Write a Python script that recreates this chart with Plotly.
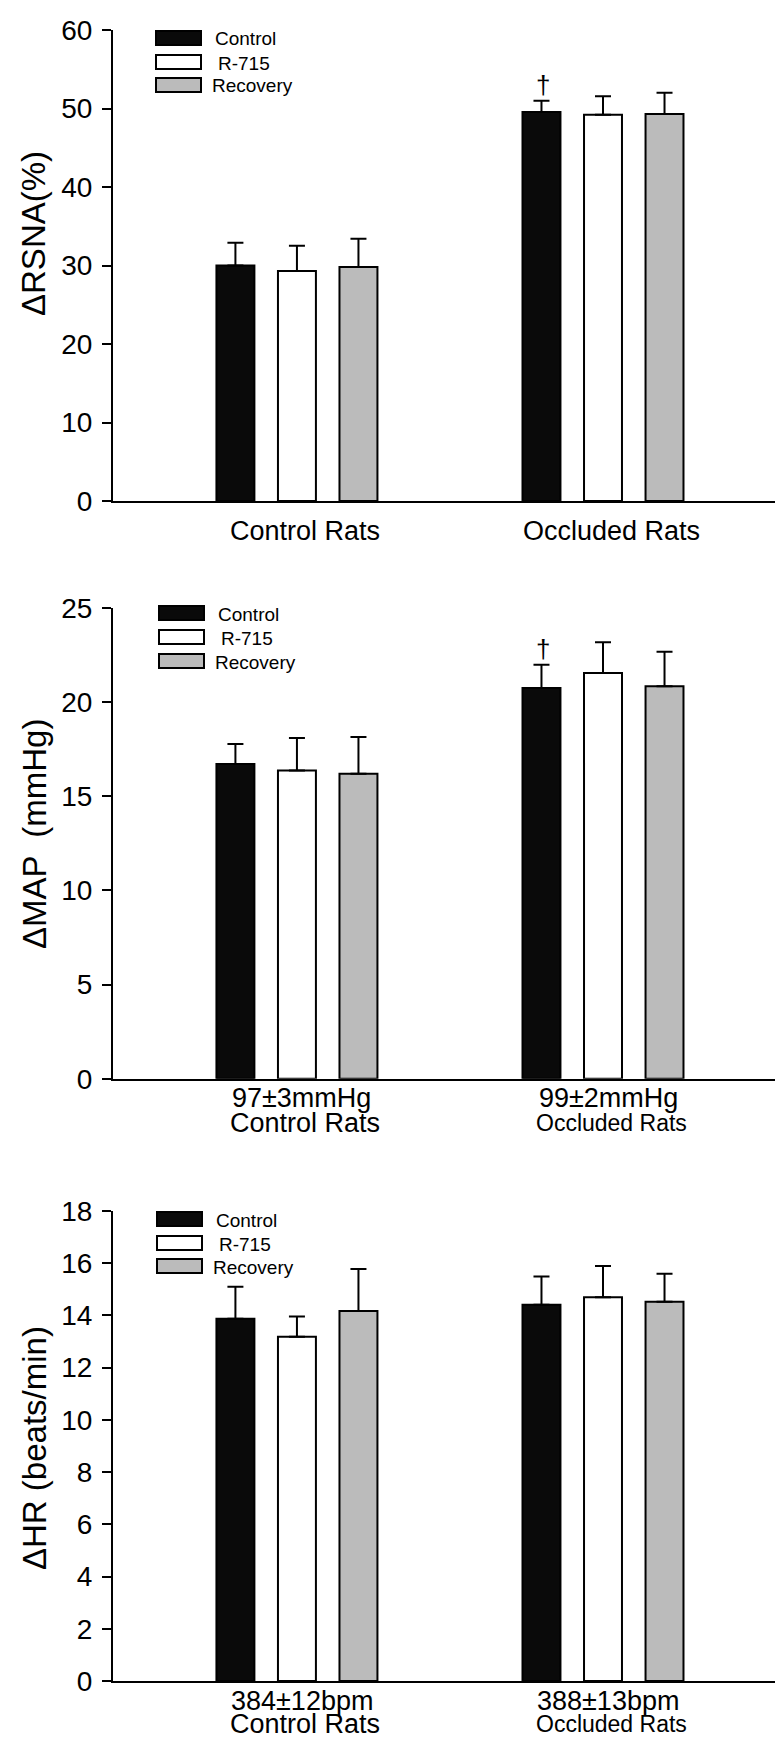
import plotly.graph_objects as go

W, H = 783, 1738
FONT = "Liberation Sans, Arial, sans-serif"

groups = ["Control Rats", "Occluded Rats"]
series = ["Control", "R-715", "Recovery"]
fills = ["#0a0a0a", "#ffffff", "#bbbbbb"]

# Panel 1: ΔRSNA (%)
rsna_mean = {"Control": [30.0, 49.55], "R-715": [29.3, 49.2], "Recovery": [29.8, 49.3]}
rsna_err = {"Control": [2.9, 1.45], "R-715": [3.2, 2.35], "Recovery": [3.6, 2.7]}
# Panel 2: ΔMAP (mmHg)
map_mean = {"Control": [16.72, 20.75], "R-715": [16.37, 21.55], "Recovery": [16.19, 20.84]}
map_err = {"Control": [1.06, 1.24], "R-715": [1.72, 1.63], "Recovery": [1.96, 1.83]}
# Panel 3: ΔHR (beats/min)
hr_mean = {"Control": [13.87, 14.41], "R-715": [13.18, 14.70], "Recovery": [14.17, 14.52]}
hr_err = {"Control": [1.23, 1.08], "R-715": [0.78, 1.19], "Recovery": [1.61, 1.08]}

y_titles = ["\u0394RSNA(%)", "\u0394MAP  (mmHg)", "\u0394HR (beats/min)"]
y_ranges = [[0, 60], [0, 25], [0, 18]]
y_dticks = [10, 5, 2]
baseline_labels = [None, ["97\u00b13mmHg", "99\u00b12mmHg"], ["384\u00b112bpm", "388\u00b113bpm"]]

# layout geometry (pixels)
ML, MR, MT, MB = 105, 1, 22, 65
PW = W - ML - MR
PH = H - MT - MB
panel_px = [(22, 493), (600, 1070.7), (1203, 1673)]
legend_px = [(148, [23, 47, 70]), (151, [598, 622, 646]), (149, [1204, 1228, 1251])]
title_y_px = [226, 826, 1440]
line1_shift = [None, -19, -20]
line2_shift = [-30, -44, -43]


def px_x(p):
    return (p - ML) / PW


def px_y(p):
    return (H - MB - p) / PH


fig = go.Figure()
data = [(rsna_mean, rsna_err), (map_mean, map_err), (hr_mean, hr_err)]
for i, (means, errs) in enumerate(data):
    sx = "" if i == 0 else str(i + 1)
    for s, c in zip(series, fills):
        fig.add_trace(go.Bar(
            x=groups, y=means[s], name=s,
            marker=dict(color=c, line=dict(color="black", width=2)),
            error_y=dict(type="data", array=errs[s], arrayminus=[0, 0], symmetric=False,
                         color="black", thickness=2, width=8),
            xaxis="x" + sx, yaxis="y" + sx, showlegend=False,
        ))

layout = dict(
    width=W, height=H, margin=dict(l=ML, r=MR, t=MT, b=MB),
    paper_bgcolor="white", plot_bgcolor="white",
    barmode="group", bargap=0.397, bargroupgap=0.383,
    font=dict(family=FONT, color="black"),
    showlegend=False,
)
annotations = []
shapes = []
for i in range(3):
    sx = "" if i == 0 else str(i + 1)
    top, bot = panel_px[i]
    layout["xaxis" + sx] = dict(
        type="category", range=[-0.601, 1.611], anchor="y" + sx, domain=[0, 1],
        showline=True, linecolor="black", linewidth=2, ticks="", showticklabels=False,
        showgrid=False, zeroline=False, fixedrange=True,
    )
    layout["yaxis" + sx] = dict(
        range=y_ranges[i], dtick=y_dticks[i], anchor="x" + sx,
        domain=[px_y(bot), px_y(top)],
        showline=True, linecolor="black", linewidth=2, ticks="outside", ticklen=9,
        tickwidth=2, tickcolor="black", showgrid=False, zeroline=False,
        tickfont=dict(size=28, family=FONT, color="black"), ticklabelstandoff=4,
    )
    # y-axis title
    annotations.append(dict(
        text=y_titles[i], xref="paper", yref="paper", x=px_x(26), y=px_y(title_y_px[i]),
        xanchor="center", yanchor="middle", textangle=-90, showarrow=False,
        font=dict(size=33, family=FONT, color="black"),
    ))
    # legend
    lx, rows = legend_px[i]
    for s, c, ry in zip(series, fills, rows):
        shapes.append(dict(type="rect", xref="paper", yref="paper",
                           x0=px_x(lx), x1=px_x(lx + 45), y0=px_y(ry + 14), y1=px_y(ry),
                           fillcolor=c, line=dict(color="black", width=2)))
        tx = lx + 57 + (3 if s == "R-715" else 0) - (3 if s == "Recovery" else 0)
        annotations.append(dict(
            text=s, xref="paper", yref="paper", x=px_x(tx), y=px_y(ry + 8),
            xanchor="left", yanchor="middle", showarrow=False,
            font=dict(size=19, family=FONT, color="black"),
        ))
    # category labels
    ydref = "y" + sx + " domain"
    for j, g in enumerate(groups):
        if i == 0:
            annotations.append(dict(
                text=g, xref="x" + sx, yref=ydref, x=g, y=0, xshift=8, yshift=line2_shift[i],
                xanchor="center", yanchor="middle", showarrow=False,
                font=dict(size=27, family=FONT, color="black"),
            ))
        else:
            annotations.append(dict(
                text=baseline_labels[i][j], xref="x" + sx, yref=ydref, x=g, y=0,
                xshift=5, yshift=line1_shift[i], xanchor="center", yanchor="middle",
                showarrow=False, font=dict(size=27, family=FONT, color="black"),
            ))
            annotations.append(dict(
                text=g, xref="x" + sx, yref=ydref, x=g, y=0,
                xshift=8, yshift=line2_shift[i], xanchor="center", yanchor="middle",
                showarrow=False,
                font=dict(size=27 if j == 0 else 23, family=FONT, color="black"),
            ))

# significance daggers over occluded-rat control bars (panels 1 & 2)
for i, (means, errs) in enumerate(data[:2]):
    sx = "" if i == 0 else str(i + 1)
    annotations.append(dict(
        text="\u2020", xref="x" + sx, yref="y" + sx, x=groups[1],
        y=means["Control"][1] + errs["Control"][1], xshift=-60, yshift=16,
        xanchor="center", yanchor="middle", showarrow=False,
        font=dict(size=26, family=FONT, color="black"),
    ))

layout["annotations"] = annotations
layout["shapes"] = shapes
fig.update_layout(**layout)
fig.write_html("out.html")
